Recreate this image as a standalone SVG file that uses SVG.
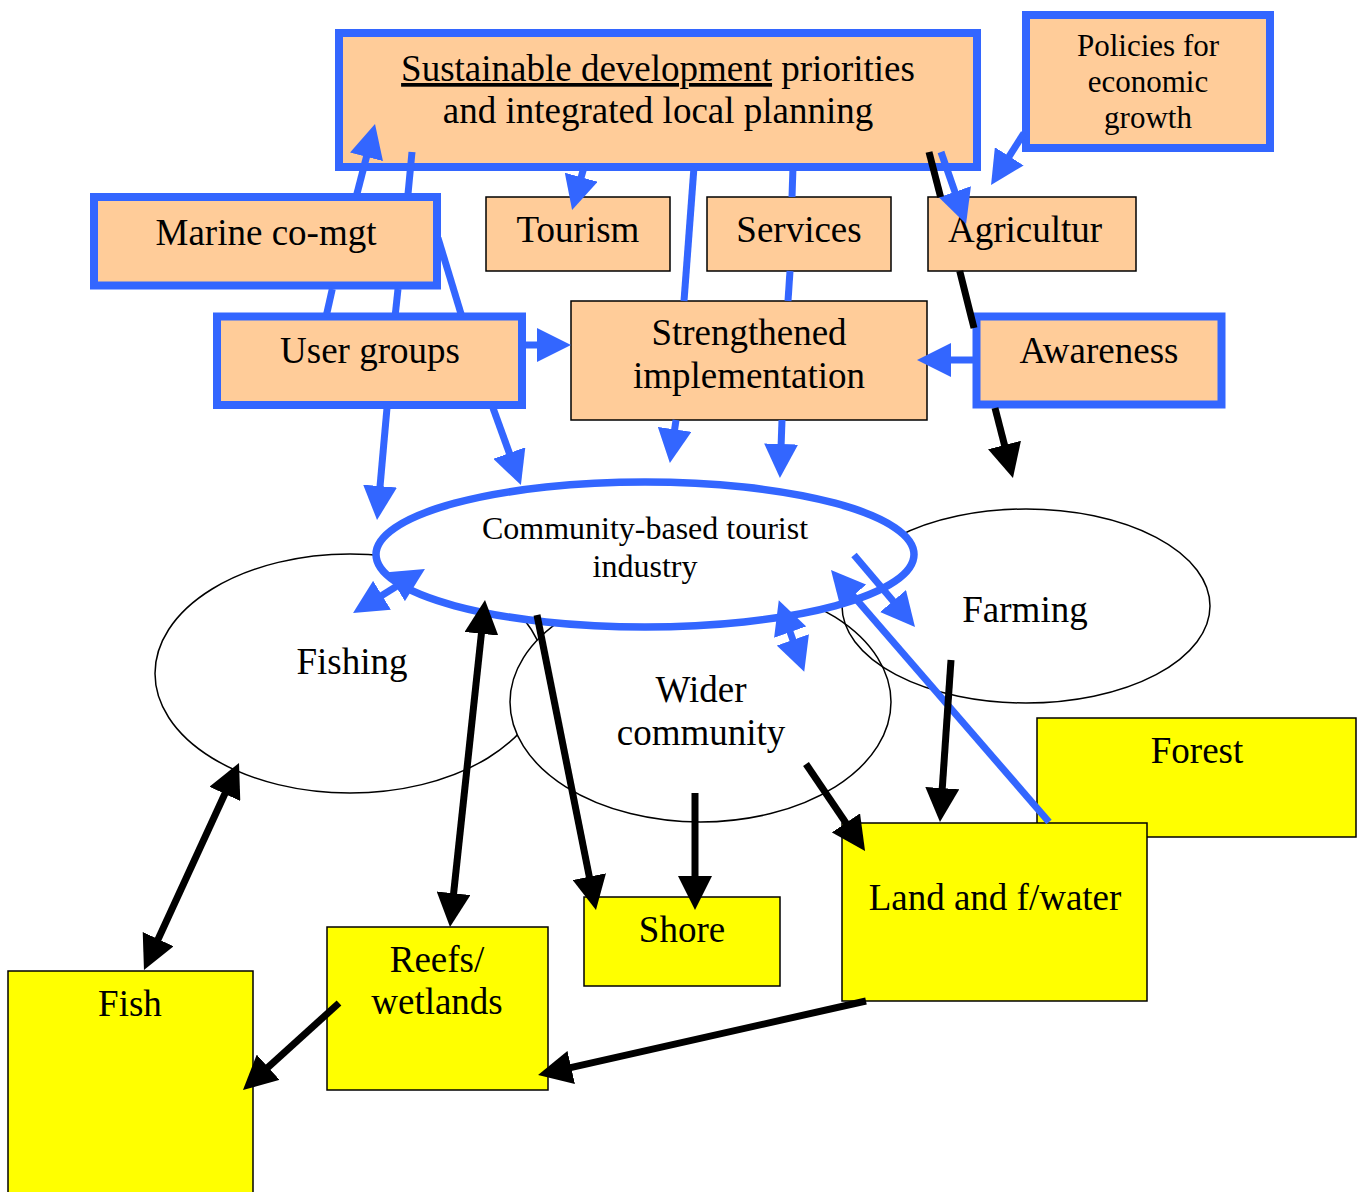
<svg xmlns="http://www.w3.org/2000/svg" width="1366" height="1192" viewBox="0 0 1366 1192">
  <style>
    .lbl { font-family: "Liberation Serif", "Times New Roman", serif; font-size: 37px; fill: #000; text-anchor: middle; }
    .small { font-size: 31px; }
    .mid { font-size: 32px; }
    .boxB { fill: #FFCC99; stroke: #3366FF; stroke-width: 8; }
    .boxT { fill: #FFCC99; stroke: #000; stroke-width: 1.5; }
    .boxY { fill: #FFFF00; stroke: #000; stroke-width: 1.5; }
    .ell { stroke: #000; stroke-width: 1.5; }
    .cb { fill: none; stroke: #3366FF; stroke-width: 7; }
    .ck { fill: none; stroke: #000; stroke-width: 7; }
    .ab { marker-end: url(#ahB); }
    .ak { marker-end: url(#ahK); }
    .ab2 { marker-start: url(#ahB); marker-end: url(#ahB); }
    .ak2 { marker-start: url(#ahK); marker-end: url(#ahK); }
  </style>
  <defs>
    <marker id="ahB" viewBox="0 -17 34 34" refX="4" refY="0" markerWidth="34" markerHeight="34" markerUnits="userSpaceOnUse" orient="auto-start-reverse">
      <path d="M0,-17 L34,0 L0,17 z" fill="#3366FF"/>
    </marker>
    <marker id="ahK" viewBox="0 -17 34 34" refX="4" refY="0" markerWidth="34" markerHeight="34" markerUnits="userSpaceOnUse" orient="auto-start-reverse">
      <path d="M0,-17 L34,0 L0,17 z" fill="#000"/>
    </marker>
  </defs>
  <rect width="1366" height="1192" fill="#fff"/>

  <!-- resource boxes -->
  <g id="forest">
    <rect class="boxY" x="1037" y="718" width="319" height="119"/>
    <text class="lbl" x="1197" y="763">Forest</text>
  </g>
  <g id="land">
    <rect class="boxY" x="842" y="823" width="305" height="178"/>
    <text class="lbl" x="995" y="910">Land and f/water</text>
  </g>
  <g id="shore">
    <rect class="boxY" x="584" y="897" width="196" height="89"/>
    <text class="lbl" x="682" y="942">Shore</text>
  </g>
  <g id="reefs">
    <rect class="boxY" x="327" y="927" width="221" height="163"/>
    <text class="lbl" x="437" y="972">Reefs/</text>
    <text class="lbl" x="437" y="1014">wetlands</text>
  </g>
  <g id="fish">
    <rect class="boxY" x="8" y="971" width="245" height="240"/>
    <text class="lbl" x="130" y="1016">Fish</text>
  </g>

  <!-- sectors -->
  <g id="fishing">
    <ellipse class="ell" cx="350" cy="673.5" rx="195" ry="119.5" fill="#fff"/>
    <text class="lbl" x="352" y="674">Fishing</text>
  </g>
  <g id="wider">
    <ellipse class="ell" cx="700.5" cy="702" rx="190.5" ry="120" fill="#fff"/>
    <text class="lbl" x="701" y="702">Wider</text>
    <text class="lbl" x="701" y="745">community</text>
  </g>
  <g id="farming">
    <ellipse class="ell" cx="1026" cy="606" rx="184" ry="97" fill="none"/>
    <text class="lbl" x="1025" y="622">Farming</text>
  </g>
  <g id="tourist-industry">
    <ellipse cx="645" cy="554.5" rx="269" ry="72.5" fill="#fff" stroke="#3366FF" stroke-width="7.5"/>
    <text class="lbl mid" x="645" y="539">Community-based tourist</text>
    <text class="lbl mid" x="645" y="577">industry</text>
  </g>

  <!-- planning and governance boxes -->
  <g id="planning">
    <rect class="boxB" x="339" y="33" width="638" height="134"/>
    <text class="lbl" x="658" y="81"><tspan style="text-decoration:underline">Sustainable development</tspan> priorities</text>
    <text class="lbl" x="658" y="123">and integrated local planning</text>
  </g>
  <g id="policies">
    <rect class="boxB" x="1026" y="15" width="244" height="133"/>
    <text class="lbl small" x="1148" y="56">Policies for</text>
    <text class="lbl small" x="1148" y="92">economic</text>
    <text class="lbl small" x="1148" y="128">growth</text>
  </g>
  <g id="marine">
    <rect class="boxB" x="94" y="197" width="343" height="88.5"/>
    <text class="lbl" x="266" y="245">Marine co-mgt</text>
  </g>
  <g id="tourism">
    <rect class="boxT" x="486" y="197" width="184" height="74"/>
    <text class="lbl" x="578" y="242">Tourism</text>
  </g>
  <g id="services">
    <rect class="boxT" x="707" y="197" width="184" height="74"/>
    <text class="lbl" x="799" y="242">Services</text>
  </g>
  <g id="agriculture">
    <rect class="boxT" x="928" y="197" width="208" height="74"/>
    <text class="lbl" x="1025" y="242">Agricultur</text>
  </g>
  <g id="user-groups">
    <rect class="boxB" x="217" y="316.5" width="305" height="88.5"/>
    <text class="lbl" x="370" y="363">User groups</text>
  </g>
  <g id="implementation">
    <rect class="boxT" x="571" y="301" width="356" height="119"/>
    <text class="lbl" x="749" y="345">Strengthened</text>
    <text class="lbl" x="749" y="388">implementation</text>
  </g>
  <g id="awareness">
    <rect class="boxB" x="976.5" y="316.5" width="245" height="88"/>
    <text class="lbl" x="1099" y="363">Awareness</text>
  </g>

  <!-- links; long lines are split where boxes hide them -->
  <g id="connectors">
    <!-- user groups / marine co-management / planning -->
    <path class="cb" d="M326,317 L332.3,289"/>
    <path class="cb ab" d="M356.9,194 L367.5,153"/>
    <path class="cb" d="M412,152 L408,194"/>
    <path class="cb" d="M398,289 L395,317"/>
    <path class="cb" d="M438,238 L462,317"/>
    <path class="cb ab" d="M524,345 L541,345"/>
    <path class="cb ab" d="M387,408 L379.7,490.1"/>
    <path class="cb ab" d="M493,408 L510.7,456.8"/>
    <!-- implementation into the tourist industry -->
    <path class="cb ab" d="M676,420 L674.1,433.3"/>
    <path class="cb ab" d="M782,420 L781,448"/>
    <path class="cb ab" d="M975,360 L947,360"/>
    <!-- planning to sectors -->
    <path class="cb ab" d="M584,167 L580.1,181.1"/>
    <path class="cb" d="M694,167 L684,301"/>
    <path class="cb" d="M793,167 L792,197"/>
    <path class="cb" d="M790,271 L788,301"/>
    <path class="cb ab" d="M941,152 L956.2,195.6"/>
    <path class="cb ab" d="M1024,133 L1007.1,159.7"/>
    <!-- tourist industry links -->
    <path class="cb ab2" d="M378.6,597.4 L399.4,584.6"/>
    <path class="cb ab2" d="M788.8,628.4 L794.2,643.6"/>
    <path class="cb ab" d="M854,555 L895.6,604.1"/>
    <path class="cb ab" d="M1049,822 L850.6,592.7"/>
    <!-- resource flows -->
    <path class="ck" d="M929,152 L940.6,197"/>
    <path class="ck" d="M959.7,271 L974,328"/>
    <path class="ck ak" d="M995,408 L1005.5,448.9"/>
    <path class="ck ak" d="M951,660 L942,792.1"/>
    <path class="ck ak" d="M806,764 L848.2,826.2"/>
    <path class="ck ak" d="M695,793 L695,880"/>
    <path class="ck ak" d="M537,615 L590.1,880.6"/>
    <path class="ck ak2" d="M481.8,629.8 L453.2,897.2"/>
    <path class="ck ak2" d="M226.5,790.3 L156.5,942.7"/>
    <path class="ck ak" d="M339,1003 L265.2,1069.9"/>
    <path class="ck ak" d="M866,1001 L567.3,1068.4"/>
  </g>
</svg>
